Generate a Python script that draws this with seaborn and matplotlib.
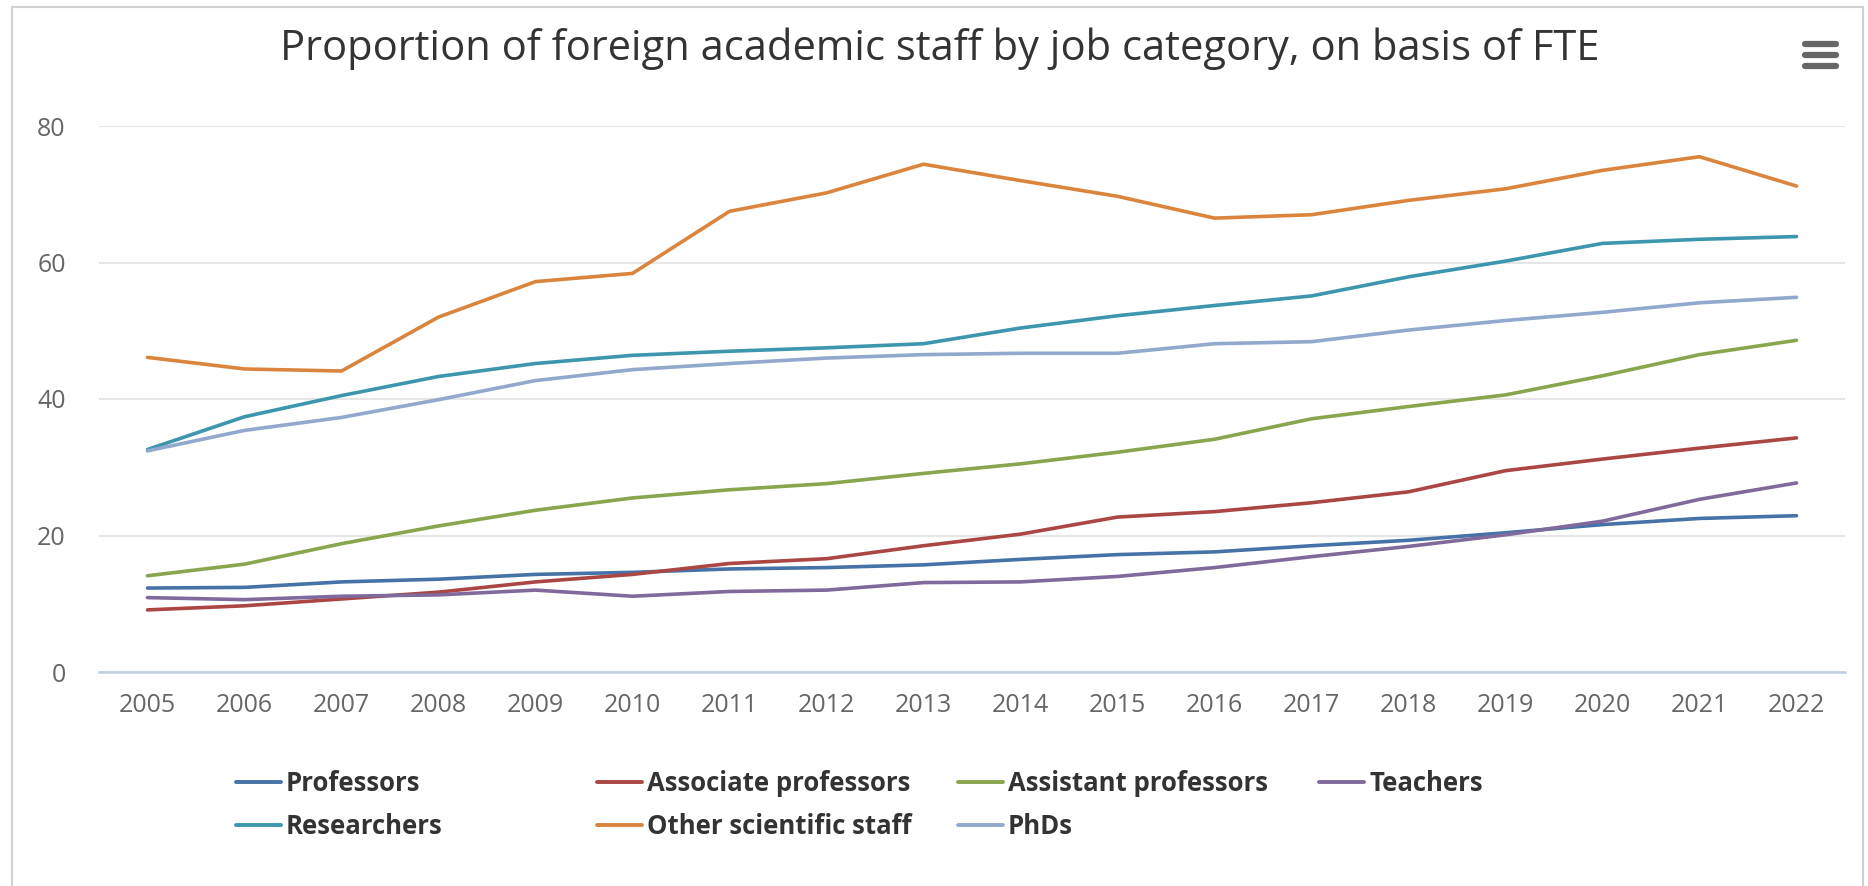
import pandas as pd
import matplotlib.pyplot as plt
import seaborn as sns
from matplotlib.lines import Line2D

# data (percent, FTE basis)
years = list(range(2005, 2023))
professors = [12.3, 12.4, 13.2, 13.6, 14.3, 14.6, 15.1, 15.3, 15.7, 16.5, 17.2, 17.6, 18.5, 19.3, 20.4, 21.6, 22.5, 22.9]
associate_professors = [9.1, 9.7, 10.7, 11.7, 13.2, 14.3, 15.9, 16.6, 18.5, 20.2, 22.7, 23.5, 24.8, 26.4, 29.5, 31.2, 32.8, 34.3]
assistant_professors = [14.1, 15.8, 18.8, 21.4, 23.7, 25.5, 26.7, 27.6, 29.1, 30.5, 32.2, 34.1, 37.1, 38.9, 40.6, 43.4, 46.5, 48.6]
teachers = [10.9, 10.6, 11.1, 11.3, 12.0, 11.1, 11.8, 12.0, 13.1, 13.2, 14.0, 15.3, 16.9, 18.4, 20.1, 22.1, 25.3, 27.7]
researchers = [32.6, 37.4, 40.5, 43.3, 45.2, 46.4, 47.0, 47.5, 48.1, 50.4, 52.2, 53.7, 55.1, 57.9, 60.2, 62.8, 63.4, 63.8]
other_staff = [46.1, 44.4, 44.1, 52.0, 57.2, 58.4, 67.5, 70.2, 74.4, 72.0, 69.7, 66.5, 67.0, 69.1, 70.8, 73.5, 75.5, 71.2]
phds = [32.4, 35.4, 37.3, 39.9, 42.7, 44.3, 45.2, 46.0, 46.5, 46.7, 46.7, 48.1, 48.4, 50.1, 51.5, 52.7, 54.1, 54.9]

categories = ['Professors', 'Associate professors', 'Assistant professors', 'Teachers',
              'Researchers', 'Other scientific staff', 'PhDs']
series = [professors, associate_professors, assistant_professors, teachers,
          researchers, other_staff, phds]
colors = ['#4572A7', '#AA4643', '#89A54E', '#80699B', '#3D96AE', '#DB843D', '#92A8CD']
yticks = [0, 20, 40, 60, 80]

df = pd.concat([pd.DataFrame({'Year': years, 'Value': s, 'Category': c})
                for c, s in zip(categories, series)], ignore_index=True)
palette = dict(zip(categories, colors))

sns.set_style('white')
plt.rcParams['font.family'] = ['Open Sans', 'DejaVu Sans']

W, H = 1868, 886
fig = plt.figure(figsize=(W / 100, H / 100), dpi=100)
ax = fig.add_axes([99 / W, 1 - 672 / H, (1845 - 99) / W, (672 - 126) / H])

sns.lineplot(data=df, x='Year', y='Value', hue='Category', hue_order=categories,
             palette=palette, linewidth=2.6, legend=False, ax=ax)

ax.set_xlim(years[0] - 0.5, years[-1] + 0.5)
ax.set_ylim(0, 80)
ax.set_xticks(years)
ax.set_yticks(yticks)
ax.set_xlabel('')
ax.set_ylabel('')
ax.yaxis.grid(True, color='#e6e6e6', linewidth=1.5)
ax.set_axisbelow(True)
for side in ['left', 'right', 'top']:
    ax.spines[side].set_visible(False)
ax.spines['bottom'].set_color('#C0D0E0')
ax.spines['bottom'].set_linewidth(1.8)
ax.tick_params(axis='x', length=0, pad=15, labelsize=18, labelcolor='#666666')
ax.tick_params(axis='y', length=0, pad=24, labelsize=18, labelcolor='#666666')

fig.text(940 / W, 1 - 60 / H, 'Proportion of foreign academic staff by job category, on basis of FTE',
         ha='center', va='baseline', fontsize=30, color='#333333')

# legend: four equal-width columns, two rows
order = [[0, 4], [1, 5], [2, 6], [3]]
for i, col in enumerate(order):
    handles = [Line2D([], [], color=colors[k], linewidth=2.8) for k in col]
    labels = [categories[k] for k in col]
    fig.legend(handles, labels, loc='upper left',
               bbox_to_anchor=((236 + i * 361) / W, 1 - 770 / H),
               frameon=False, borderpad=0, borderaxespad=0,
               handlelength=1.75, handletextpad=0.2, labelspacing=0.62,
               prop={'size': 18.5, 'weight': 'bold'}, labelcolor='#333333')

# menu icon
for y in [44, 55, 66]:
    fig.add_artist(Line2D([1805 / W, 1836 / W], [1 - y / H, 1 - y / H], color='#666666',
                          linewidth=4.5, solid_capstyle='round'))

# outer border
border = dict(color='#d0d0d0', linewidth=1.5)
fig.add_artist(Line2D([12 / W, 12 / W], [0, 1 - 7 / H], **border))
fig.add_artist(Line2D([12 / W, 1863 / W], [1 - 7 / H, 1 - 7 / H], **border))
fig.add_artist(Line2D([1863 / W, 1863 / W], [0, 1 - 7 / H], **border))

fig.savefig('out.png', dpi=100)
